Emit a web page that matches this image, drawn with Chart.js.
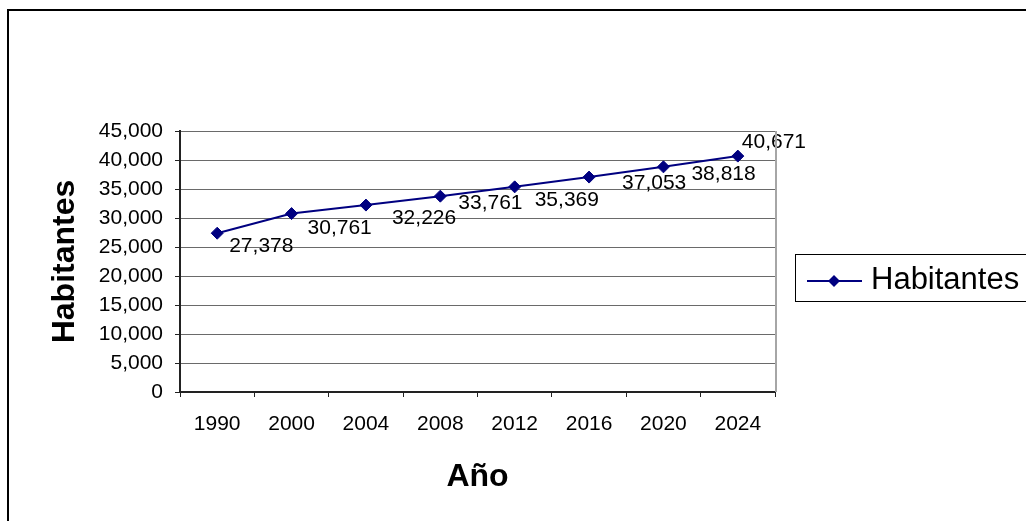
<!DOCTYPE html>
<html>
<head>
<meta charset="utf-8">
<script src="https://cdn.jsdelivr.net/npm/chart.js@4/dist/chart.umd.min.js"></script>
<style>
    body { margin: 0; background: #fff; }
    canvas { display: block; }
</style>
</head>
<body>
<canvas id="chart-habitantes" width="1026" height="521"></canvas>
<script>
const years = ['1990', '2000', '2004', '2008', '2012', '2016', '2020', '2024']
const habitantes = [27378, 30761, 32226, 33761, 35369, 37053, 38818, 40671]

// donde cae cada etiqueta respecto a su punto (como en la hoja original)
const labelDx = [12, 16, 26, 18, 20, 33, 28, 4]
const labelDy = [13, 15, 13, 7, 13, 6, 7, -14]

const navy = '#000080'
const font = 'Liberation Sans, Arial, sans-serif'

Chart.defaults.color = '#000'
Chart.defaults.font.family = font


// marco exterior, borde del area y leyenda
const frame = {
    id: 'frame',
    afterDraw(chart) {
        const ctx = chart.ctx
        const area = chart.chartArea
        ctx.save()

        ctx.strokeStyle = '#000'
        ctx.lineWidth = 2
        ctx.beginPath()
        ctx.moveTo(8, chart.height)
        ctx.lineTo(8, 10)
        ctx.lineTo(chart.width, 10)
        ctx.stroke()

        ctx.strokeStyle = '#a6a6a6'
        ctx.beginPath()
        ctx.moveTo(area.right + 1, area.top)
        ctx.lineTo(area.right + 1, area.bottom)
        ctx.stroke()

        // leyenda
        ctx.strokeStyle = '#000'
        ctx.lineWidth = 1
        ctx.strokeRect(795.5, 254.5, 300, 47)

        ctx.strokeStyle = navy
        ctx.lineWidth = 2
        ctx.beginPath()
        ctx.moveTo(807, 281)
        ctx.lineTo(862, 281)
        ctx.stroke()

        ctx.fillStyle = navy
        ctx.beginPath()
        ctx.moveTo(834, 275)
        ctx.lineTo(840, 281)
        ctx.lineTo(834, 287)
        ctx.lineTo(828, 281)
        ctx.closePath()
        ctx.fill()

        ctx.fillStyle = '#000'
        ctx.font = '31px ' + font
        ctx.textAlign = 'left'
        ctx.textBaseline = 'middle'
        ctx.fillText(chart.data.datasets[0].label, 871, 280)

        ctx.restore()
    }
}

// etiquetas de datos
const pointLabels = {
    id: 'pointLabels',
    afterDatasetsDraw(chart) {
        const ctx = chart.ctx
        const meta = chart.getDatasetMeta(0)
        ctx.save()
        ctx.fillStyle = '#000'
        ctx.font = '21px ' + font
        ctx.textAlign = 'left'
        ctx.textBaseline = 'middle'
        meta.data.forEach((pt, i) => {
            const value = chart.data.datasets[0].data[i]
            ctx.fillText(value.toLocaleString('en-US'), pt.x + labelDx[i], pt.y + labelDy[i])
        })
        ctx.restore()
    }
}


let data = {
    labels: years,
    datasets: [{
        label: 'Habitantes',
        data: habitantes,
        borderColor: navy,
        backgroundColor: navy,
        borderWidth: 2,
        pointStyle: 'rectRot',
        pointRadius: 6,
        pointBorderWidth: 1,
        tension: 0
    }]
}

let options = {
    responsive: false,
    animation: false,
    layout: {
        padding: { left: 42, top: 131, right: 251, bottom: 21 }
    },
    plugins: {
        legend: { display: false },
        tooltip: { enabled: false }
    },
    scales: {
        x: {
            offset: true,
            afterFit(scale) { scale.height = 108 },
            grid: {
                offset: true,
                drawOnChartArea: false,
                tickLength: 5,
                tickColor: '#222'
            },
            border: { color: '#222', width: 2 },
            ticks: {
                font: { size: 21 },
                padding: 15,
                maxRotation: 0
            },
            title: {
                display: true,
                text: 'Año',
                font: { size: 32, weight: 'bold', lineHeight: 1.2 },
                padding: { top: 4, bottom: 4 }
            }
        },
        y: {
            min: 0,
            max: 45000,
            afterFit(scale) { scale.width = 138 },
            grid: {
                color: '#6a6a6a',
                lineWidth: 1,
                tickLength: 5,
                tickColor: '#222'
            },
            border: { color: '#222', width: 2 },
            ticks: {
                stepSize: 5000,
                font: { size: 21 },
                padding: 12,
                callback: v => v.toLocaleString('en-US')
            },
            title: {
                display: true,
                text: 'Habitantes',
                font: { size: 32, weight: 'bold', lineHeight: 1.2 },
                padding: { top: 4, bottom: 4 }
            }
        }
    }
}

new Chart('chart-habitantes', { type: 'line', data, options, plugins: [frame, pointLabels] })
</script>
</body>
</html>
